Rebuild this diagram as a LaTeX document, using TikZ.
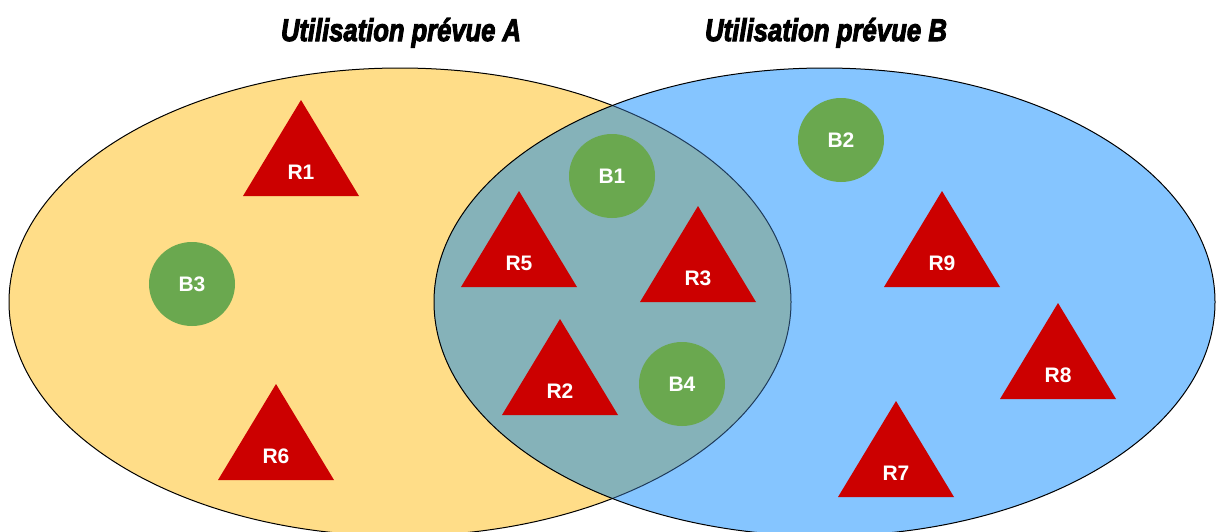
\documentclass[tikz,border=0pt]{standalone}
\usepackage{fontspec}
\setmainfont{Liberation Sans}
\newfontfamily\ttlfont{Liberation Sans}[BoldItalicFeatures={FakeBold=3.5}]
\usetikzlibrary{shapes.geometric}
\definecolor{ylw}{HTML}{FFDD88}
\definecolor{blu}{HTML}{85C5FF}
\definecolor{lens}{HTML}{85B2B9}
\definecolor{grn}{HTML}{6AA84F}
\definecolor{trired}{HTML}{CC0000}
\definecolor{darkedge}{HTML}{1E3A5A}
\begin{document}
\begin{tikzpicture}[x=1pt,y=-1pt,
  lbl/.style={text=white,font=\bfseries\fontsize{21}{21}\selectfont,inner sep=0pt},
  ball/.style={ellipse,fill=grn,minimum width=86pt,minimum height=84pt,inner sep=0pt,
    text=white,font=\bfseries\fontsize{21}{21}\selectfont},
  tri/.pic={\fill[trired] (-58,0) -- (0,-96) -- (58,0) -- cycle;
            \node[lbl] (-t) at (0,-23.5) {#1};},
  ttl/.style={font=\ttlfont\bfseries\itshape,inner sep=0pt,anchor=base},
  edge/.style={line width=1pt}
]
\path[use as bounding box] (0,0) rectangle (1216,531);
\fill[white] (0,0) rectangle (1216,531);
\begin{scope}
  \clip (0,0) rectangle (1216,531);
  \fill[ylw] (400,302) ellipse [x radius=391, y radius=234];
  \draw[edge] (400,302) ellipse [x radius=391, y radius=234];
  \fill[blu] (824.5,302) ellipse [x radius=390.5, y radius=234];
  \begin{scope}
    \clip (400,302) ellipse [x radius=391, y radius=234];
    \fill[lens] (824.5,302) ellipse [x radius=390.5, y radius=234];
  \end{scope}
  \begin{scope}
    \clip (824.5,302) ellipse [x radius=390.5, y radius=234];
    \draw[edge,darkedge] (400,302) ellipse [x radius=391, y radius=234];
  \end{scope}
  \draw[edge] (824.5,302) ellipse [x radius=390.5, y radius=234];
\end{scope}

\node[ttl] (tA) at (401,41) {\resizebox{240pt}{23pt}{Utilisation prévue A}};
\node[ttl] (tB) at (826,41) {\resizebox{242pt}{23pt}{Utilisation prévue B}};

\node[ball] (B1) at (612,176) {B1};
\node[ball] (B2) at (841,140) {B2};
\node[ball] (B3) at (192,284) {B3};
\node[ball] (B4) at (682,384) {B4};

\pic (R1) at (301,196) {tri=R1};
\pic (R5) at (519,287) {tri=R5};
\pic (R3) at (698,302) {tri=R3};
\pic (R2) at (560,415) {tri=R2};
\pic (R6) at (276,480) {tri=R6};
\pic (R9) at (942,287) {tri=R9};
\pic (R8) at (1058,399) {tri=R8};
\pic (R7) at (896,497) {tri=R7};
\end{tikzpicture}
\end{document}
